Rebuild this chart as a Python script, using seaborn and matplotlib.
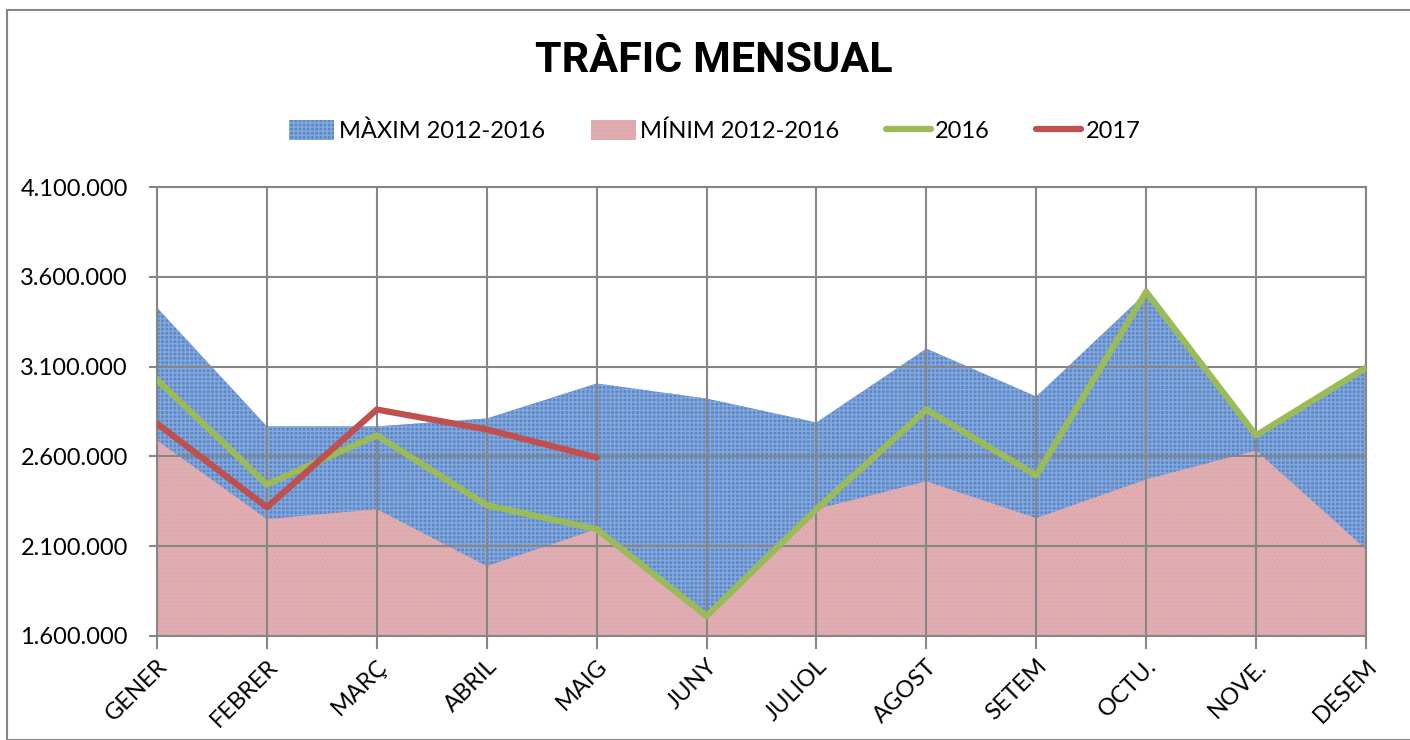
import numpy as np
import pandas as pd
import matplotlib
matplotlib.use("Agg")
import matplotlib.pyplot as plt
import matplotlib.ticker as mticker
from matplotlib.patches import Rectangle, Patch
from matplotlib.lines import Line2D
import seaborn as sns

## month labels and series
months = ["GENER", "FEBRER", "MARÇ", "ABRIL", "MAIG", "JUNY", "JULIOL",
          "AGOST", "SETEM", "OCTU.", "NOVE.", "DESEM"]
maxim = [3428000, 2767000, 2767000, 2811000, 3006000, 2922000, 2789000,
         3200000, 2933000, 3511000, 2717000, 3089000]
minim = [2689000, 2250000, 2306000, 1989000, 2195000, 1711000, 2306000,
         2461000, 2256000, 2472000, 2633000, 2083000]
y2016 = [3028000, 2444000, 2717000, 2328000, 2195000, 1711000, 2306000,
         2861000, 2494000, 3517000, 2717000, 3094000]
y2017 = [2783000, 2317000, 2861000, 2750000, 2594000]
yticks = [1600000, 2100000, 2600000, 3100000, 3600000, 4100000]

sns.set_style("white")
plt.rcParams['font.family'] = ['Lato', 'DejaVu Sans']
plt.rcParams['hatch.linewidth'] = 1.0
plt.rcParams['text.color'] = 'black'
plt.rcParams['xtick.color'] = 'black'
plt.rcParams['ytick.color'] = 'black'

df = pd.DataFrame({"x": range(len(months)), "maxim": maxim, "minim": minim, "y2016": y2016})
df17 = pd.DataFrame({"x": range(len(y2017)), "y2017": y2017})

fig = plt.figure(figsize=(14.1, 7.4), dpi=100)
ax = fig.add_axes([157/1410, 1 - 636/740, (1366 - 157)/1410, (636 - 187)/740])

blue = "#5b88c8"
pink = "#e2a9ab"
green = "#9bbb59"
red = "#c0504d"
grey = "#868686"

## areas drawn overlapping, minimum in front
ax.fill_between(df.x, 0, df.maxim, facecolor=blue, edgecolor="#86a9dc", hatch="++++", linewidth=0, zorder=1)
ax.fill_between(df.x, 0, df.minim, facecolor=pink, edgecolor="#d8b4c4", hatch="....", linewidth=0, zorder=1.1)

sns.lineplot(data=df, x="x", y="y2016", color=green, linewidth=4.5, ax=ax, zorder=3)
sns.lineplot(data=df17, x="x", y="y2017", color=red, linewidth=4.5, ax=ax, zorder=3)

ax.set_xlim(0, len(months) - 1)
ax.set_ylim(yticks[0], yticks[-1])
ax.set_yticks(yticks)
ax.yaxis.set_major_formatter(mticker.FuncFormatter(lambda v, p: f"{int(v):,}".replace(",", ".")))
ax.set_xticks(range(len(months)))
ax.set_xticklabels(months, rotation=45, ha="right", rotation_mode="anchor", fontsize=17)
ax.tick_params(axis="y", labelsize=17, length=6, color=grey, labelcolor="black", width=1.5, pad=15, left=True)
ax.tick_params(axis="x", length=9, color=grey, labelcolor="black", width=1.5, pad=5, bottom=True)
ax.set_xlabel("")
ax.set_ylabel("")

ax.grid(True, color=grey, linewidth=1.5)
ax.set_axisbelow(False)
for s in ax.spines.values():
    s.set_color(grey)
    s.set_linewidth(1.5)

fig.text(0.506, 0.918, "TRÀFIC MENSUAL", ha="center", va="center", fontsize=31, color="black",
         fontweight="bold", family=["Roboto", "DejaVu Sans"])

handles = [Patch(facecolor=blue, edgecolor="#86a9dc", hatch="++++", linewidth=0),
           Patch(facecolor=pink, edgecolor="#d8b4c4", hatch="....", linewidth=0),
           Line2D([], [], color=green, linewidth=4.5),
           Line2D([], [], color=red, linewidth=4.5)]
labels = ["MÀXIM 2012-2016", "MÍNIM 2012-2016", "2016", "2017"]
fig.legend(handles, labels, loc="center", bbox_to_anchor=(0.507, 0.823), ncol=4,
           frameon=False, fontsize=17, handlelength=1.9, handleheight=0.9,
           columnspacing=1.95, handletextpad=0.2)

## outer chart border
fig.patches.append(Rectangle((7/1410, 0), 1, 1 - 10/740, transform=fig.transFigure,
                             fill=False, edgecolor=grey, linewidth=1.5))

fig.savefig("out.png", dpi=100)
